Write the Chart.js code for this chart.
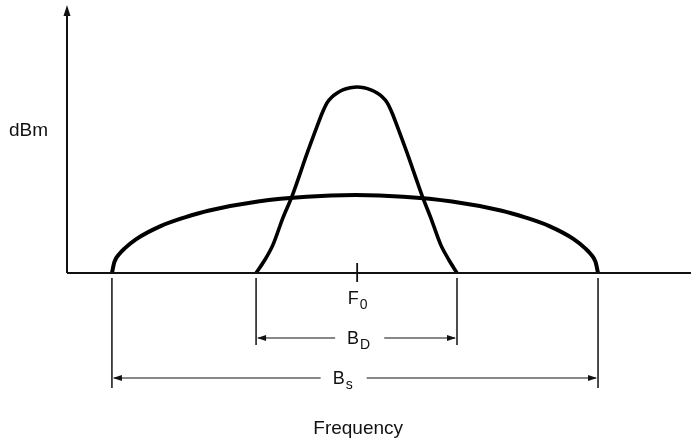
<!DOCTYPE html>
<html>
<head>
<meta charset="utf-8">
<script src="https://cdn.jsdelivr.net/npm/chart.js@4/dist/chart.umd.min.js"></script>
<style>
  html, body { margin: 0; padding: 0; background: #fff; }
  #wrap { width: 691px; height: 440px; }
</style>
</head>
<body>
<div id="wrap"><canvas id="specChart" width="691" height="440"></canvas></div>
<script>
// narrow (desired) signal spectrum
const narrowFreq = [30.3, 31.7, 33.0, 34.6, 36.1, 38.5, 40.1, 40.9, 41.7, 42.5, 43.3, 44.2, 45.4, 46.5,
                    47.6, 48.7, 49.7, 50.5, 51.3, 52.1, 52.9, 54.5, 56.9, 58.3, 59.9, 61.2, 62.5];
const narrowLevel = [0, 4.9, 10.6, 20.8, 29.2, 45.3, 55.5, 60.4, 64.3, 66.5, 67.9, 69.1, 69.9, 70.2,
                     69.9, 69.1, 67.9, 66.5, 64.3, 60.4, 55.5, 45.3, 29.2, 20.8, 10.6, 4.9, 0];

// wide (spread) signal spectrum
const wideFreq = [7.2, 7.6, 8.4, 9.2, 11.1, 15.0, 18.9, 22.8, 30.6, 38.4, 46.2, 53.9, 61.7, 69.5, 73.4, 77.3, 81.2, 83.1, 83.9, 84.7, 85.1];
const wideLevel = [0, 4.2, 7.2, 9.2, 12.8, 17.7, 21.0, 23.6, 27.0, 28.8, 29.4, 28.8, 27.0, 23.6, 21.0, 17.7, 12.8, 9.2, 7.2, 4.2, 0];

const centerFreq = 46.5;
const centerLabel = ['F', '0'];
const narrowBwLabel = ['B', 'D'];
const wideBwLabel = ['B', 's'];
const xTitle = 'Frequency';
const yTitle = 'dBm';

const toPoints = (xs, ys) => xs.map((x, i) => ({ x: x, y: ys[i] }));
const FONT = '"Liberation Sans", Arial, sans-serif';

function arrowHead(ctx, x, y, dir, len, half) {
    // dir: 'up', 'left', 'right'
    ctx.beginPath();
    if (dir === 'up') {
        ctx.moveTo(x, y);
        ctx.lineTo(x - half, y + len);
        ctx.lineTo(x + half, y + len);
    } else if (dir === 'left') {
        ctx.moveTo(x, y);
        ctx.lineTo(x + len, y - half);
        ctx.lineTo(x + len, y + half);
    } else {
        ctx.moveTo(x, y);
        ctx.lineTo(x - len, y - half);
        ctx.lineTo(x - len, y + half);
    }
    ctx.closePath();
    ctx.fill();
}

// text with a subscript, centred on cx
function subText(ctx, parts, cx, baseline, size, subSize, subDrop) {
    ctx.font = size + 'px ' + FONT;
    const w1 = ctx.measureText(parts[0]).width;
    ctx.font = subSize + 'px ' + FONT;
    const w2 = ctx.measureText(parts[1]).width;
    const start = cx - (w1 + w2) / 2;
    ctx.textAlign = 'left';
    ctx.textBaseline = 'alphabetic';
    ctx.font = size + 'px ' + FONT;
    ctx.fillText(parts[0], start, baseline);
    ctx.font = subSize + 'px ' + FONT;
    ctx.fillText(parts[1], start + w1 + 1, baseline + subDrop);
    return { left: start, right: start + w1 + 1 + w2 };
}

function dimension(ctx, x1, x2, y, labelParts, labelCx, extBottom, axisY) {
    ctx.lineWidth = 1.5;
    ctx.beginPath();
    ctx.moveTo(x1, axisY + 5);
    ctx.lineTo(x1, extBottom);
    ctx.moveTo(x2, axisY + 5);
    ctx.lineTo(x2, extBottom);
    ctx.stroke();

    const box = subText(ctx, labelParts, labelCx, y + 6, 18, 14, 5);
    ctx.lineWidth = 1.2;
    ctx.beginPath();
    ctx.moveTo(x1 + 2, y);
    ctx.lineTo(box.left - 12, y);
    ctx.moveTo(box.right + 14, y);
    ctx.lineTo(x2 - 2, y);
    ctx.stroke();
    arrowHead(ctx, x1 + 1, y, 'left', 9, 3);
    arrowHead(ctx, x2 - 1, y, 'right', 9, 3);
}

const diagramPlugin = {
    id: 'diagram',
    afterDatasetsDraw(chart) {
        const ctx = chart.ctx;
        const xs = chart.scales.x;
        const ys = chart.scales.y;
        const x0 = xs.getPixelForValue(0);
        const y0 = ys.getPixelForValue(0);
        ctx.save();
        ctx.strokeStyle = '#111';
        ctx.fillStyle = '#111';

        // axes
        ctx.lineWidth = 2;
        ctx.beginPath();
        ctx.moveTo(x0, y0);
        ctx.lineTo(x0, ys.top + 4);
        ctx.moveTo(x0, y0);
        ctx.lineTo(chart.width, y0);
        ctx.stroke();
        arrowHead(ctx, x0, ys.top - 3, 'up', 11, 3.5);

        // centre frequency tick
        const fx = xs.getPixelForValue(centerFreq);
        ctx.lineWidth = 1.8;
        ctx.beginPath();
        ctx.moveTo(fx, y0 - 10);
        ctx.lineTo(fx, y0 + 9);
        ctx.stroke();
        subText(ctx, centerLabel, fx, y0 + 31, 18, 14, 5);

        // bandwidth dimensions
        const bdL = xs.getPixelForValue(narrowFreq[0]);
        const bdR = xs.getPixelForValue(narrowFreq[narrowFreq.length - 1]);
        const bsL = xs.getPixelForValue(wideFreq[0]);
        const bsR = xs.getPixelForValue(wideFreq[wideFreq.length - 1]);
        dimension(ctx, bdL, bdR, y0 + 65, narrowBwLabel, fx + 1, y0 + 72, y0);
        dimension(ctx, bsL, bsR, y0 + 105, wideBwLabel, fx - 15, y0 + 115, y0);

        // titles
        ctx.font = '19px ' + FONT;
        ctx.textAlign = 'center';
        ctx.textBaseline = 'alphabetic';
        ctx.fillText(xTitle, fx + 1, y0 + 161);
        ctx.textAlign = 'left';
        ctx.fillText(yTitle, 9, 136);
        ctx.restore();
    }
};

new Chart(document.getElementById('specChart').getContext('2d'), {
    type: 'scatter',
    data: {
        datasets: [
            {
                label: 'narrow',
                data: toPoints(narrowFreq, narrowLevel),
                showLine: true,
                borderColor: '#000',
                borderWidth: 3.6,
                pointRadius: 0,
                tension: 0.3,
                clip: false
            },
            {
                label: 'wide',
                data: toPoints(wideFreq, wideLevel),
                showLine: true,
                borderColor: '#000',
                borderWidth: 4,
                pointRadius: 0,
                cubicInterpolationMode: 'monotone',
                clip: false
            }
        ]
    },
    options: {
        responsive: false,
        animation: false,
        layout: { padding: { left: 67, right: 0, top: 8, bottom: 167 } },
        scales: {
            x: { type: 'linear', min: 0, max: 100, display: false },
            y: { type: 'linear', min: 0, max: 100, display: false }
        },
        plugins: {
            legend: { display: false },
            tooltip: { enabled: false }
        }
    },
    plugins: [diagramPlugin]
});
</script>
</body>
</html>
